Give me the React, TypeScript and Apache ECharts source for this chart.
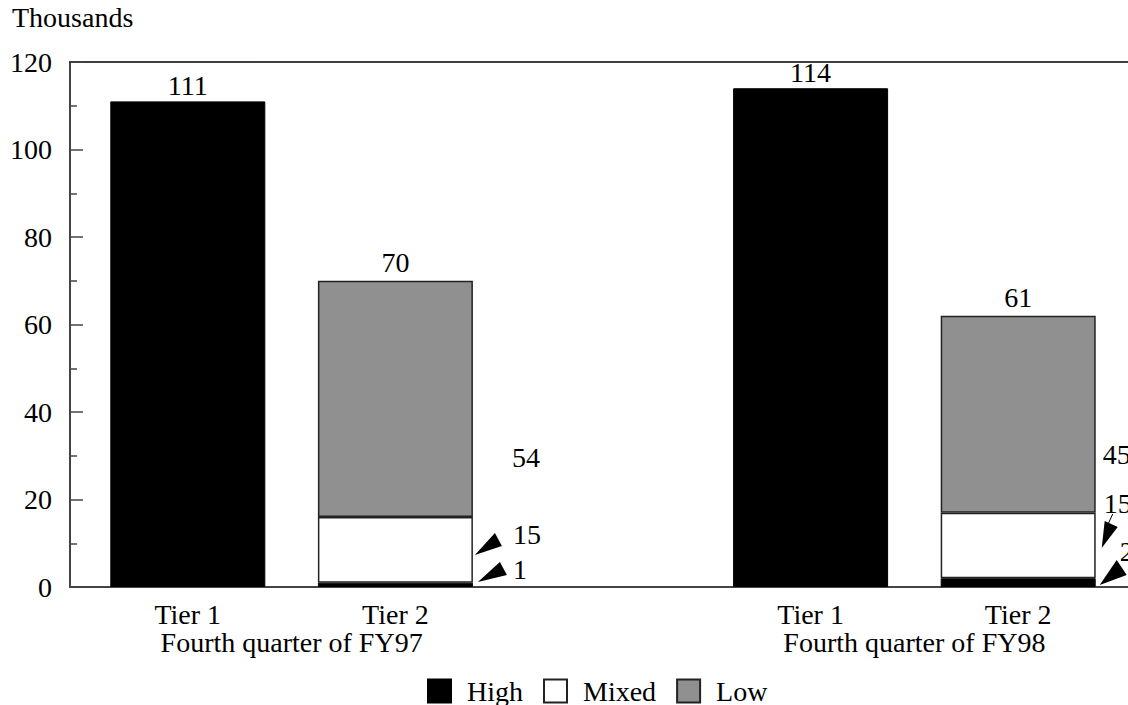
import React, { useEffect, useRef } from 'react';
import * as echarts from 'echarts';

const categories = ['Tier 1', 'Tier 2', '', 'Tier 1', 'Tier 2'];
const groupLabels = ['', 'Fourth quarter of FY97', '', '', 'Fourth quarter of FY98', ''];
const highValues: (number | string)[] = [111, 1, '-', 114, 2];
const mixedValues: (number | string)[] = ['-', 15, '-', '-', 15];
const lowValues: (number | string)[] = ['-', 54, '-', '-', 45];
const totalLabels = ['111', '70', '', '114', '61'];
const seriesNames = ['High', 'Mixed', 'Low'];
const yMin = 0;
const yMax = 120;
const yStep = 20;

// side annotations: category index, text, value level of the text
const annotationCats = [1, 1, 1, 4, 4, 4];
const annotationTexts = ['54', '15', '1', '45', '15', '2'];
const annotationLevels = [29.6, 12.1, 4.1, 30.4, 19.2, 8.2];

const FONT = 'Liberation Serif';
const BAR_WIDTH = 155;

export default function App() {
  const ref = useRef<HTMLDivElement>(null);
  useEffect(() => {
    if (!ref.current) return;
    const chart = echarts.init(ref.current, undefined, { renderer: 'svg' });
    const option: any = {
      animation: false,
      textStyle: { fontFamily: FONT, color: '#000' },
      title: {
        text: 'Thousands',
        left: 12,
        top: 3,
        padding: 0,
        textStyle: { fontFamily: FONT, fontWeight: 'normal', fontSize: 28, color: '#000' },
      },
      legend: {
        data: seriesNames,
        left: 422,
        top: 672,
        icon: 'rect',
        itemWidth: 23,
        itemHeight: 23,
        itemGap: 20,
        textStyle: { fontFamily: FONT, fontSize: 28, color: '#000', padding: [0, 0, 0, 11] },
      },
      grid: [
        { left: 84, right: 6, top: 62, bottom: 118 },
        { left: 70, right: 0, top: 62, bottom: 118 },
      ],
      xAxis: [
        {
          gridIndex: 0,
          type: 'category',
          data: categories,
          axisLine: { show: false },
          axisTick: { show: false },
          axisLabel: { interval: 0, margin: 13, fontSize: 28, color: '#000', fontFamily: FONT },
        },
        {
          gridIndex: 0,
          type: 'category',
          boundaryGap: false,
          data: groupLabels,
          position: 'bottom',
          axisLine: { show: false },
          axisTick: { show: false },
          axisLabel: { interval: 0, margin: 41, fontSize: 28, color: '#000', fontFamily: FONT },
        },
        {
          gridIndex: 1,
          type: 'value',
          min: 0,
          max: 1,
          position: 'bottom',
          axisLine: { show: true, lineStyle: { color: '#444', width: 2 } },
          axisTick: { show: false },
          axisLabel: { show: false },
          splitLine: { show: false },
        },
        {
          gridIndex: 1,
          type: 'value',
          min: 0,
          max: 1,
          position: 'top',
          axisLine: { show: true, lineStyle: { color: '#000', width: 1.5 } },
          axisTick: { show: false },
          axisLabel: { show: false },
          splitLine: { show: false },
        },
      ],
      yAxis: [
        {
          gridIndex: 0,
          type: 'value',
          min: yMin,
          max: yMax,
          show: false,
          splitLine: { show: false },
        },
        {
          gridIndex: 1,
          type: 'value',
          min: yMin,
          max: yMax,
          interval: yStep,
          axisLine: { show: true, lineStyle: { color: '#444', width: 2 } },
          axisTick: { show: true, inside: true, length: 13, lineStyle: { color: '#444', width: 1.5 } },
          minorTick: { show: true, splitNumber: 2, length: 7, lineStyle: { color: '#444', width: 1.5 } },
          axisLabel: { margin: 18, fontSize: 28, color: '#000', fontFamily: FONT },
          splitLine: { show: false },
          minorSplitLine: { show: false },
        },
      ],
      series: [
        {
          name: 'High',
          type: 'bar',
          stack: 'total',
          xAxisIndex: 0,
          yAxisIndex: 0,
          barWidth: BAR_WIDTH,
          data: highValues,
          itemStyle: { color: '#000', borderColor: '#000', borderWidth: 1 },
          label: {
            show: true,
            position: 'top',
            distance: 2,
            fontSize: 28,
            color: '#000',
            fontFamily: FONT,
            formatter: (p: any) => (lowValues[p.dataIndex] === '-' ? totalLabels[p.dataIndex] : ''),
          },
        },
        {
          name: 'Mixed',
          type: 'bar',
          stack: 'total',
          xAxisIndex: 0,
          yAxisIndex: 0,
          barWidth: BAR_WIDTH,
          data: mixedValues,
          itemStyle: { color: '#fff', borderColor: '#222', borderWidth: 1.5 },
        },
        {
          name: 'Low',
          type: 'bar',
          stack: 'total',
          xAxisIndex: 0,
          yAxisIndex: 0,
          barWidth: BAR_WIDTH,
          data: lowValues,
          itemStyle: { color: '#909090', borderColor: '#222', borderWidth: 1.5 },
          label: {
            show: true,
            position: 'top',
            distance: 4,
            fontSize: 28,
            color: '#000',
            fontFamily: FONT,
            formatter: (p: any) => totalLabels[p.dataIndex],
          },
        },
      ],
    };
    chart.setOption(option);

    // annotations beside the Tier 2 bars, positioned through the chart's scales
    const graphics: any[] = [];
    const corner = (cat: number) => {
      const p = chart.convertToPixel({ xAxisIndex: 0, yAxisIndex: 0 }, [cat, 0]) as number[];
      return [p[0] + BAR_WIDTH / 2, p[1]];
    };
    const textDx = [39, 40, 40, 7, 8, 24];
    annotationTexts.forEach((t, i) => {
      const cat = annotationCats[i];
      const [R] = corner(cat);
      const py = (chart.convertToPixel({ xAxisIndex: 0, yAxisIndex: 0 }, [cat, annotationLevels[i]]) as number[])[1];
      graphics.push({
        type: 'text',
        x: R + textDx[i],
        y: py,
        style: { text: t, fontSize: 28, fontFamily: FONT, fill: '#000', align: 'left', verticalAlign: 'middle' },
      });
    });
    const [R1, B1] = corner(1);
    const [R2, B2] = corner(4);
    const tri = (pts: number[][]) => ({ type: 'polygon', shape: { points: pts }, style: { fill: '#000' } });
    graphics.push(tri([[R1 + 2, B1 - 32], [R1 + 22, B1 - 54], [R1 + 29, B1 - 41]]));
    graphics.push(tri([[R1 + 5, B1 - 5], [R1 + 27, B1 - 25], [R1 + 34, B1 - 12]]));
    graphics.push({ type: 'line', shape: { x1: R2 + 17, y1: B2 - 73, x2: R2 + 12, y2: B2 - 62 }, style: { stroke: '#000', lineWidth: 1 } });
    graphics.push(tri([[R2 + 6, B2 - 39], [R2 + 9, B2 - 66], [R2 + 22, B2 - 60]]));
    graphics.push(tri([[R2 + 4, B2 - 2], [R2 + 21, B2 - 27], [R2 + 31, B2 - 12]]));
    chart.setOption({ graphic: graphics });

    return () => chart.dispose();
  }, []);
  return (
    <div
      ref={ref}
      style={{ position: 'fixed', left: 0, top: 0, width: 1128, height: 705, background: '#fff' }}
    />
  );
}
